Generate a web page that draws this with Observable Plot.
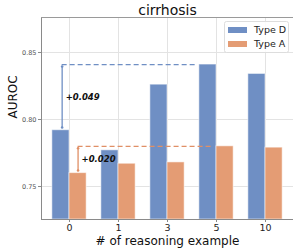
<!DOCTYPE html>
<html>
<head>
<meta charset="utf-8">
<script src="https://cdn.jsdelivr.net/npm/d3@7"></script>
<script src="https://cdn.jsdelivr.net/npm/@observablehq/plot@0.6"></script>
<style>
  html, body { margin: 0; padding: 0; background: #fff; }
  svg { display: block; }
</style>
</head>
<body>
<div id="chart"></div>
<script>
// ---- data ----
const categories = ["0", "1", "3", "5", "10"];
const seriesNames = ["Type D", "Type A"];
const typeD = [0.792, 0.777, 0.826, 0.841, 0.834];
const typeA = [0.760, 0.767, 0.768, 0.780, 0.779];
const gainLabels = ["+0.049", "+0.020"];
const gains = [0.049, 0.020];
const yTicks = [0.75, 0.80, 0.85];
const title = "cirrhosis";
const xLabel = "# of reasoning example";
const yLabel = "AUROC";

// ---- style ----
const colors = {"Type D": "#6f8fc4", "Type A": "#e49c74"};
const darkColors = {"Type D": "#6f8fc4", "Type A": "#e08f66"};
const yMin = 0.7254, yMax = 0.8761;
const xMin = -0.5714, xMax = categories.length - 1 + 0.5714;
const barW = 0.35;
const font = "DejaVu Sans, Liberation Sans, sans-serif";

const bars = [];
categories.forEach((c, i) => {
  bars.push({series: "Type D", x1: i - barW, x2: i, y1: yMin, y2: typeD[i]});
  bars.push({series: "Type A", x1: i, x2: i + barW, y1: yMin, y2: typeA[i]});
});

// annotations: from group 0 up to group "5" level
const best = 3; // index of "5"
const ann = [
  {series: "Type D", x: 0 - 0.15, xEnd: best - 0.43, base: typeD[0], top: typeD[0] + gains[0], label: gainLabels[0]},
  {series: "Type A", x: 0 + 0.175, xEnd: best - 0.09, base: typeA[0], top: typeA[0] + gains[1], label: gainLabels[1]}
];
const annEnds = ann.flatMap(a => [{series: a.series, x: a.x, y: a.top - 0.0015}, {series: a.series, x: a.x, y: a.base + 0.002}]);

const idx = categories.map((_, i) => i);

const plot = Plot.plot({
  width: 293,
  height: 248,
  marginLeft: 41,
  marginRight: 0,
  marginTop: 17,
  marginBottom: 29,
  style: {fontFamily: font, background: "white", overflow: "visible"},
  x: {domain: [xMin, xMax], axis: null},
  y: {domain: [yMin, yMax], axis: null},
  marks: [
    Plot.gridX(idx, {stroke: "#e3e3e3", strokeOpacity: 1, strokeWidth: 1}),
    Plot.gridY(yTicks, {stroke: "#e3e3e3", strokeOpacity: 1, strokeWidth: 1}),
    Plot.rect(bars, {x1: "x1", x2: "x2", y1: "y1", y2: "y2", fill: d => colors[d.series], stroke: "white", strokeOpacity: 0.55, strokeWidth: 1}),
    // dashed reference lines
    Plot.ruleY(ann, {y: "top", x1: "x", x2: "xEnd", stroke: d => darkColors[d.series], strokeWidth: 1.2, strokeDasharray: "5,3"}),
    // vertical arrows
    Plot.ruleX(ann, {x: "x", y1: d => d.base + 0.002, y2: d => d.top - 0.0015, stroke: d => darkColors[d.series], strokeWidth: 1.3}),
    Plot.dot(annEnds, {x: "x", y: "y", r: 1.3, fill: d => darkColors[d.series], stroke: "none"}),
    Plot.text(ann, {x: "x", y: d => (d.base + d.top) / 2, text: "label", textAnchor: "start", dx: 3.5, fontSize: 8.5, fontWeight: "bold", fontStyle: "italic", fill: "#111"}),
    // frame lines
    Plot.ruleX([xMin], {stroke: "#8a8a8a", strokeWidth: 1}),
    Plot.ruleY([yMin], {stroke: "#8a8a8a", strokeWidth: 1}),
    Plot.ruleY([yMax], {stroke: "#9a9a9a", strokeWidth: 1}),
    // axes
    Plot.axisX(idx, {tickFormat: i => categories[i], tickSize: 3, tickPadding: 2, fontSize: 9.5, stroke: "#8a8a8a", fill: "#222", label: null}),
    Plot.axisY(yTicks, {tickFormat: d => d.toFixed(2), tickSize: 3, tickPadding: 2, fontSize: 6.5, stroke: "#8a8a8a", fill: "#555", label: null}),
    // labels
    Plot.text([title], {text: d => d, frameAnchor: "top", lineAnchor: "middle", dy: -7, fontSize: 14, fill: "#111"}),
    Plot.text([xLabel], {text: d => d, frameAnchor: "bottom", lineAnchor: "middle", dy: 22, fontSize: 12, fill: "#111"}),
    Plot.text([yLabel], {text: d => d, frameAnchor: "left", lineAnchor: "middle", rotate: -90, dx: -28, fontSize: 12, fill: "#111"})
  ]
});

// legend (inside plot, upper right)
const svg = d3.select(plot);
const lg = svg.append("g").attr("font-family", font).attr("text-anchor", "start");
lg.append("rect").attr("x", 224.5).attr("y", 21.5).attr("width", 64).attr("height", 31)
  .attr("rx", 2).attr("fill", "white").attr("fill-opacity", 0.85).attr("stroke", "#dddddd");
seriesNames.forEach((s, i) => {
  lg.append("rect").attr("x", 228).attr("y", 27 + i * 14).attr("width", 19).attr("height", 6).attr("fill", colors[s]);
  lg.append("text").attr("x", 254).attr("y", 30 + i * 14).attr("dy", "0.35em").attr("font-size", 9.5).attr("fill", "#222").attr("text-anchor", "start").text(s);
});

document.getElementById("chart").appendChild(plot);
</script>
</body>
</html>
